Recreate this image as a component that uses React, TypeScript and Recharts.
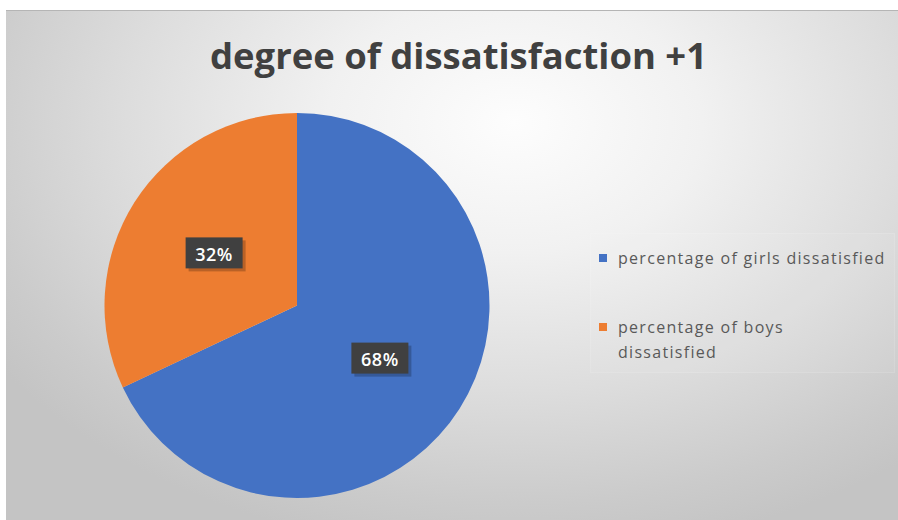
import React from 'react';
import { PieChart, Pie, Cell, Legend } from 'recharts';

// chart values
const categories = ['percentage of girls dissatisfied', 'percentage of boys dissatisfied'];
const legendLines = [['percentage of girls dissatisfied'], ['percentage of boys', 'dissatisfied']];
const percentValues = [68, 32];
const sliceColors = ['#4472C4', '#ED7D31'];

const data = categories.map((name, i) => ({ name, value: percentValues[i] }));

const RAD = Math.PI / 180;

const renderLabel = (props: any) => {
  const { cx, cy, midAngle, outerRadius, value } = props;
  const r = outerRadius * 0.51;
  const x = cx + r * Math.cos(-midAngle * RAD);
  const y = cy + r * Math.sin(-midAngle * RAD);
  const w = 57;
  const h = 31;
  return (
    <g>
      <rect x={x - w / 2 + 3} y={y - h / 2 + 3} width={w} height={h} fill="rgba(0,0,0,0.22)" />
      <rect x={x - w / 2} y={y - h / 2} width={w} height={h} fill="#404040" />
      <text
        x={x}
        y={y + 1}
        textAnchor="middle"
        dominantBaseline="central"
        fill="#ffffff"
        fontFamily="'Open Sans', sans-serif"
        fontWeight={600}
        fontSize={18}
        letterSpacing={0.5}
      >
        {`${value}%`}
      </text>
    </g>
  );
};

const renderLegend = () => (
  <div
    style={{
      width: 305,
      height: 140,
      boxSizing: 'border-box',
      background: 'rgba(255,255,255,0.06)',
      border: '1px solid rgba(255,255,255,0.12)',
      fontFamily: "'Open Sans', sans-serif",
      fontSize: 16,
      letterSpacing: 1.3,
      color: '#595959',
      position: 'relative',
    }}
  >
    {legendLines.map((lines, i) => (
      <div key={i} style={{ position: 'absolute', left: 8, top: i === 0 ? 12 : 81 }}>
        <div
          style={{
            position: 'absolute',
            left: 0,
            top: 8,
            width: 8,
            height: 8,
            background: sliceColors[i],
          }}
        />
        {lines.map((t, j) => (
          <div key={j} style={{ marginLeft: 19, lineHeight: '25px', whiteSpace: 'nowrap' }}>
            {t}
          </div>
        ))}
      </div>
    ))}
  </div>
);

export default function App() {
  return (
    <div style={{ position: 'absolute', left: 0, top: 0, width: 898, height: 520, background: '#fff' }}>
      <div
        style={{
          position: 'absolute',
          left: 6,
          top: 10,
          width: 892,
          height: 510,
          borderTop: '1px solid #b5b5b5',
          boxSizing: 'border-box',
          background:
            'radial-gradient(ellipse 70% 85% at 57% 22%, #fdfdfd 0%, #f1f1f1 30%, #dddddd 62%, #cbcbcb 88%, #c4c4c4 100%)',
        }}
      />
      <svg style={{ position: 'absolute', left: 0, top: 0 }} width={898} height={520}>
        <text
          x={458.5}
          y={69}
          textAnchor="middle"
          textLength={497}
          lengthAdjust="spacingAndGlyphs"
          fontFamily="'Open Sans', sans-serif"
          fontWeight={700}
          fontSize={36}
          fill="#404040"
        >
          degree of dissatisfaction +1
        </text>
      </svg>
      <div style={{ position: 'absolute', left: 0, top: 0 }}>
        <PieChart width={898} height={520} margin={{ top: 0, right: 0, bottom: 0, left: 0 }}>
          <Pie
            data={data}
            dataKey="value"
            nameKey="name"
            cx={297}
            cy={305.5}
            outerRadius={192.5}
            startAngle={90}
            endAngle={-270}
            stroke="none"
            label={renderLabel}
            labelLine={false}
            isAnimationActive={false}
          >
            {data.map((d, i) => (
              <Cell key={d.name} fill={sliceColors[i]} />
            ))}
          </Pie>
          <Legend
            content={renderLegend}
            wrapperStyle={{ position: 'absolute', left: 590, top: 233, width: 305, height: 140 }}
          />
        </PieChart>
      </div>
    </div>
  );
}
